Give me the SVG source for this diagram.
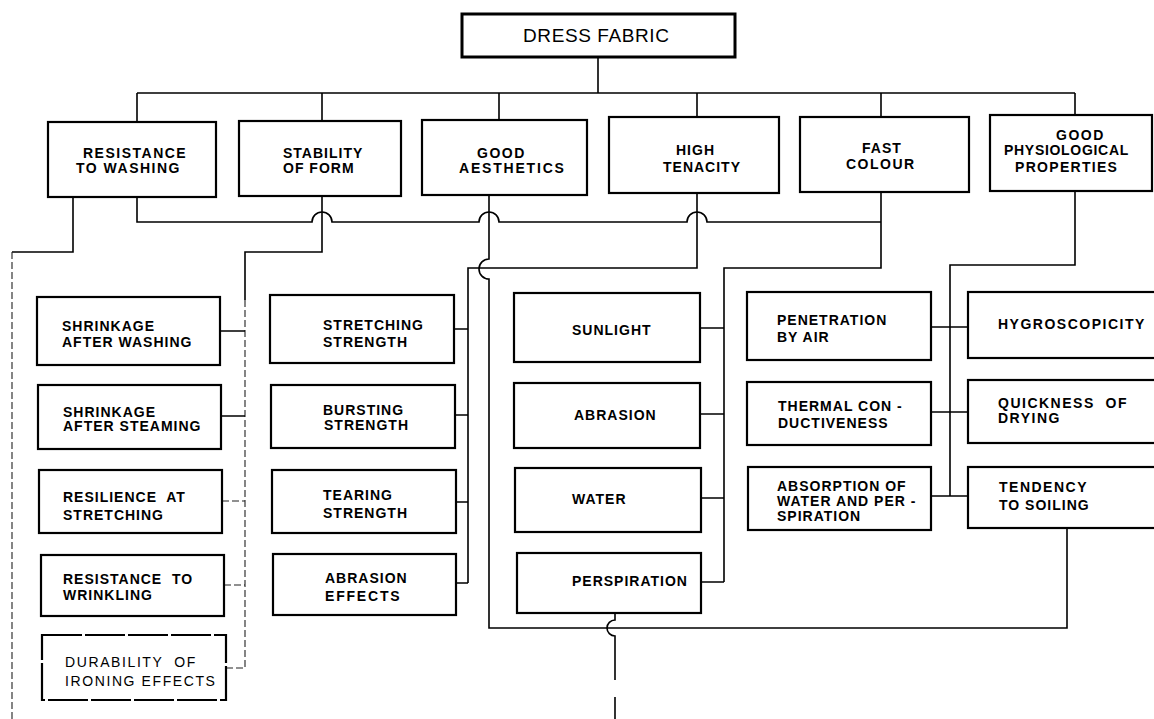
<svg xmlns="http://www.w3.org/2000/svg" width="1154" height="719" viewBox="0 0 1154 719">
<style>
  .box { fill: #fff; stroke: #000; stroke-width: 2.2; }
  .top { fill: #fff; stroke: #000; stroke-width: 3; }
  .ln { fill: none; stroke: #000; stroke-width: 1.6; }
  .faint { fill: none; stroke: #222; stroke-width: 1.1; stroke-dasharray: 7 3; }
  text { font-family: "Liberation Sans", Arial, sans-serif; font-size: 14px; font-weight: bold; letter-spacing: 1px; fill: #000; }
  .title { font-size: 19px; font-weight: normal; letter-spacing: 0.6px; }
  .thin { font-weight: normal; letter-spacing: 1.6px; }
</style>
<rect width="1154" height="719" fill="#fff"/>

<g id="connectors">
  <path class="ln" d="M598 57 V93 M137 93 H1075 M137 93 V122 M322 93 V121 M499 93 V120 M697 93 V117 M881 93 V117 M1075 93 V115"/>
  <path class="ln" d="M73 197 V252 H12"/>
  <path class="faint" d="M12 252 V719"/>
  <path class="ln" d="M137 197 V222 H312 A10 10 0 0 1 332 222 H479 A10 10 0 0 1 499 222 H687 A10 10 0 0 1 707 222 H881"/>
  <path class="ln" d="M322 196 V252 H245 V300"/>
  <path class="faint" d="M245 300 V668"/>
  <path class="ln" d="M220 331 H245 M221 416 H245"/>
  <path class="faint" d="M222 501 H245 M224 585 H245 M226 668 H245"/>
  <path class="ln" d="M489 195 V259 A10 10 0 0 0 489 279 V628 H1067 V528"/>
  <path class="ln" d="M697 193 V268 H468 V583 M454 329 H468 M455 415 H468 M456 502 H468 M456 583 H468"/>
  <path class="ln" d="M881 192 V268 H724 V582 M700 328 H724 M700 414 H724 M701 498 H724 M701 582 H724"/>
  <path class="ln" d="M1075 191 V265 H950 V496 M931 327 H968 M931 412 H968 M931 496 H968"/>
  <path class="ln" d="M615 613 V620 A8 8 0 0 0 615 636 V680 M615 697 V719"/>
</g>

<g id="dress-fabric"><rect class="top" x="462" y="14" width="273" height="43"/><text class="title" x="523" y="42">DRESS FABRIC</text></g>

<g id="resistance-to-washing"><rect class="box" x="48" y="122" width="168" height="75"/><text x="83" y="158" style="letter-spacing:1.5px">RESISTANCE</text><text x="76" y="173" style="letter-spacing:1.5px">TO WASHING</text></g>
<g id="stability-of-form"><rect class="box" x="239" y="121" width="162" height="75"/><text x="283" y="158">STABILITY</text><text x="283" y="173">OF FORM</text></g>
<g id="good-aesthetics"><rect class="box" x="422" y="120" width="165" height="75"/><text x="477" y="158" style="letter-spacing:1.5px">GOOD</text><text x="459" y="173" style="letter-spacing:1.8px">AESTHETICS</text></g>
<g id="high-tenacity"><rect class="box" x="609" y="117" width="170" height="76"/><text x="676" y="155">HIGH</text><text x="663" y="172">TENACITY</text></g>
<g id="fast-colour"><rect class="box" x="800" y="117" width="169" height="75"/><text x="862" y="153">FAST</text><text x="846" y="169" style="letter-spacing:1.5px">COLOUR</text></g>
<g id="good-physiological-properties"><rect class="box" x="990" y="115" width="162" height="76"/><text x="1056" y="140" style="letter-spacing:1.5px">GOOD</text><text x="1004" y="155" style="letter-spacing:0.7px">PHYSIOLOGICAL</text><text x="1015" y="172" style="letter-spacing:1.3px">PROPERTIES</text></g>

<g id="shrinkage-after-washing"><rect class="box" x="37" y="297" width="183" height="68"/><text x="62" y="331">SHRINKAGE</text><text x="62" y="347">AFTER WASHING</text></g>
<g id="shrinkage-after-steaming"><rect class="box" x="38" y="385" width="183" height="64"/><text x="63" y="417">SHRINKAGE</text><text x="63" y="431">AFTER STEAMING</text></g>
<g id="resilience-at-stretching"><rect class="box" x="39" y="470" width="183" height="63"/><text x="63" y="502" xml:space="preserve">RESILIENCE  AT</text><text x="63" y="520">STRETCHING</text></g>
<g id="resistance-to-wrinkling"><rect class="box" x="41" y="555" width="183" height="61"/><text x="63" y="584" xml:space="preserve">RESISTANCE  TO</text><text x="63" y="600">WRINKLING</text></g>
<g id="durability-of-ironing-effects"><rect class="box" x="42" y="635" width="184" height="65" style="stroke-dasharray:40 3"/><text class="thin" x="65" y="667" xml:space="preserve">DURABILITY  OF</text><text class="thin" x="65" y="686">IRONING EFFECTS</text></g>

<g id="stretching-strength"><rect class="box" x="270" y="295" width="184" height="68"/><text x="323" y="330">STRETCHING</text><text x="323" y="347">STRENGTH</text></g>
<g id="bursting-strength"><rect class="box" x="271" y="385" width="184" height="63"/><text x="323" y="415">BURSTING</text><text x="324" y="430">STRENGTH</text></g>
<g id="tearing-strength"><rect class="box" x="272" y="470" width="184" height="63"/><text x="323" y="500">TEARING</text><text x="323" y="518">STRENGTH</text></g>
<g id="abrasion-effects"><rect class="box" x="273" y="554" width="183" height="61"/><text x="325" y="583">ABRASION</text><text x="325" y="601" style="letter-spacing:1.8px">EFFECTS</text></g>

<g id="sunlight"><rect class="box" x="514" y="293" width="186" height="69"/><text x="572" y="335">SUNLIGHT</text></g>
<g id="abrasion"><rect class="box" x="514" y="383" width="186" height="65"/><text x="574" y="420">ABRASION</text></g>
<g id="water"><rect class="box" x="515" y="468" width="186" height="64"/><text x="572" y="504">WATER</text></g>
<g id="perspiration"><rect class="box" x="517" y="553" width="184" height="60"/><text x="572" y="586">PERSPIRATION</text></g>

<g id="penetration-by-air"><rect class="box" x="747" y="292" width="184" height="68"/><text x="777" y="325">PENETRATION</text><text x="777" y="342">BY AIR</text></g>
<g id="thermal-conductiveness"><rect class="box" x="747" y="382" width="184" height="63"/><text x="778" y="411" xml:space="preserve">THERMAL CON -</text><text x="778" y="428">DUCTIVENESS</text></g>
<g id="absorption"><rect class="box" x="748" y="467" width="183" height="63"/><text x="777" y="491">ABSORPTION OF</text><text x="777" y="506">WATER AND PER -</text><text x="777" y="521">SPIRATION</text></g>

<g id="hygroscopicity"><rect class="box" x="968" y="292" width="200" height="66"/><text x="998" y="329" style="letter-spacing:1.5px">HYGROSCOPICITY</text></g>
<g id="quickness-of-drying"><rect class="box" x="968" y="380" width="200" height="63"/><text x="998" y="408" xml:space="preserve" style="letter-spacing:1.5px">QUICKNESS  OF</text><text x="998" y="423" style="letter-spacing:1.5px">DRYING</text></g>
<g id="tendency-to-soiling"><rect class="box" x="968" y="467" width="200" height="61"/><text x="999" y="492" style="letter-spacing:1.5px">TENDENCY</text><text x="999" y="510">TO SOILING</text></g>
</svg>
